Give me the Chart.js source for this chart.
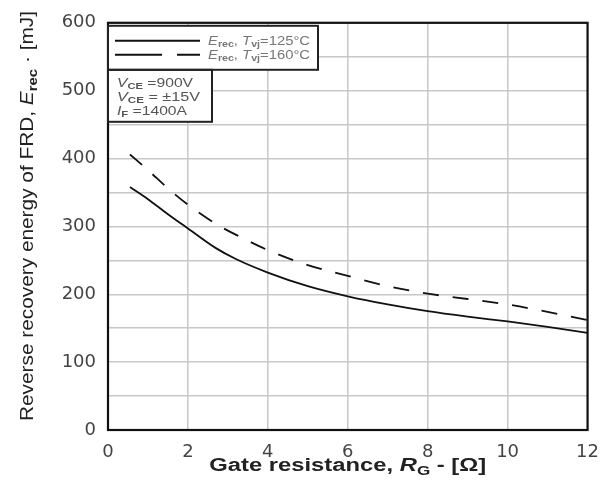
<!DOCTYPE html>
<html><head><meta charset="utf-8">
<script src="https://cdn.jsdelivr.net/npm/chart.js@4"></script>
<style>html,body{margin:0;padding:0;background:#fff}#wrap{width:611px;height:485px}</style>
</head><body><div id="wrap"><canvas id="c" width="611" height="485"></canvas></div>
<script>
// Data
const rgSolid = [0.55, 1, 1.5, 2, 2.7, 3.2, 4, 5, 6, 7, 8, 9, 10, 11, 12];
const eSolid  = [358, 340, 318, 297, 268, 252, 232, 212, 197, 185, 175, 167, 160, 152, 143];
const rgDash  = [0.55, 1, 1.5, 2, 2.75, 3.5, 4, 5, 6, 7, 8, 9, 10, 11, 12];
const eDash   = [406, 383, 356, 332, 302, 279, 265, 243, 227, 212, 201, 193, 185, 174, 162];
const xTicks = [0, 2, 4, 6, 8, 10, 12];
const yTicks = [0, 100, 200, 300, 400, 500, 600];

const pts = (xs, ys) => xs.map((x, i) => ({x, y: ys[i]}));
const FONT = '"Liberation Sans", Arial, sans-serif';
const TICKFONT = '"DejaVu Sans", sans-serif';

// draw mixed-style text; optional target width stretches it horizontally
function richText(ctx, x, y, segs, size, color, align, targetW) {
  const fontFor = (s) => {
    let sz = s.includes('sub') ? size * 0.72 : size;
    let w = s.includes('b') ? 'bold ' : '';
    let it = s.includes('i') ? 'italic ' : '';
    return it + w + sz + 'px ' + FONT;
  };
  let total = 0;
  segs.forEach(([t, s]) => { ctx.font = fontFor(s); total += ctx.measureText(t).width; });
  const sx = targetW ? targetW / total : 1;
  ctx.save();
  ctx.translate(x, y);
  ctx.scale(sx, 1);
  let cx = align === 'center' ? -total / 2 : 0;
  ctx.fillStyle = color;
  ctx.textBaseline = 'alphabetic';
  ctx.textAlign = 'left';
  segs.forEach(([t, s]) => {
    ctx.font = fontFor(s);
    ctx.fillText(t, cx, s.includes('sub') ? size * 0.22 : 0);
    cx += ctx.measureText(t).width;
  });
  ctx.restore();
}

const overlay = {
  id: 'overlay',
  afterDraw(chart) {
    const ctx = chart.ctx;
    const ca = chart.chartArea;
    ctx.save();
    // plot border
    ctx.strokeStyle = '#111'; ctx.lineWidth = 2.2;
    ctx.strokeRect(ca.left, ca.top, ca.right - ca.left, ca.bottom - ca.top);
    // legend box
    const L = ca.left, T = ca.top + 3;
    ctx.fillStyle = '#fff';
    ctx.fillRect(L, T, 210, 44);
    ctx.fillRect(L, T + 44, 104, 52);
    ctx.lineWidth = 2;
    ctx.strokeStyle = '#222';
    ctx.strokeRect(L, T, 210, 44);
    ctx.strokeRect(L, T + 44, 104, 52);
    ctx.lineWidth = 2;
    ctx.strokeStyle = '#111';
    ctx.beginPath(); ctx.moveTo(L + 7, T + 15); ctx.lineTo(L + 92, T + 15); ctx.stroke();
    ctx.setLineDash([47, 15]);
    ctx.beginPath(); ctx.moveTo(L + 7, T + 29); ctx.lineTo(L + 92, T + 29); ctx.stroke();
    ctx.setLineDash([]);
    richText(ctx, L + 100, T + 19, [['E', 'i'], ['rec', 'sub'], [', ', ''], ['T', 'i'], ['vj', 'sub'], ['=125°C', '']], 12, '#777', 'left', 102);
    richText(ctx, L + 100, T + 33, [['E', 'i'], ['rec', 'sub'], [', ', ''], ['T', 'i'], ['vj', 'sub'], ['=160°C', '']], 12, '#777', 'left', 102);
    richText(ctx, L + 9, T + 61, [['V', 'i'], ['CE', 'sub'], [' =900V', '']], 12, '#555', 'left', 76);
    richText(ctx, L + 9, T + 75, [['V', 'i'], ['CE', 'sub'], [' = ±15V', '']], 12, '#555', 'left', 83);
    richText(ctx, L + 9, T + 89, [['I', 'i'], ['F', 'sub'], [' =1400A', '']], 12, '#555', 'left', 70);
    // x title
    richText(ctx, (ca.left + ca.right) / 2, 471, [['Gate resistance, ', 'b'], ['R', 'bi'], ['G', 'bsub'], [' - [Ω]', 'b']], 18, '#222', 'center', 277);
    // y title
    ctx.translate(33, 216);
    ctx.rotate(-Math.PI / 2);
    richText(ctx, 0, 0, [['Reverse recovery energy of FRD, ', ''], ['E', 'i'], ['rec', 'sub'], [' · [mJ]', '']], 18.5, '#222', 'center', 410);
    ctx.restore();
  }
};

new Chart(document.getElementById('c'), {
  type: 'scatter',
  data: {
    datasets: [
      { label: 'Erec, Tvj=125°C', data: pts(rgSolid, eSolid), showLine: true, borderColor: '#111', borderWidth: 1.8, pointRadius: 0, tension: 0.4, cubicInterpolationMode: 'monotone' },
      { label: 'Erec, Tvj=160°C', data: pts(rgDash, eDash), showLine: true, borderColor: '#111', borderWidth: 1.8, borderDash: [16, 14], pointRadius: 0, tension: 0.4, cubicInterpolationMode: 'monotone' }
    ]
  },
  options: {
    responsive: false, animation: false,
    layout: { padding: { top: 10, right: 23, left: 0, bottom: 0 } },
    plugins: { legend: { display: false }, tooltip: { enabled: false } },
    scales: {
      x: {
        type: 'linear', min: 0, max: 12,
        afterFit: s => { s.height = 55; },
        afterBuildTicks: s => { s.ticks = xTicks.map(v => ({value: v})); },
        grid: { color: '#c8c8c8', lineWidth: 1.5, drawTicks: false },
        border: { display: false },
        ticks: { padding: 12, color: '#444', font: { size: 18, family: TICKFONT } }
      },
      y: {
        type: 'linear', min: 0, max: 600,
        afterFit: s => { s.width = 108; },
        ticks: { stepSize: 50, padding: 12, color: '#444', font: { size: 18, family: TICKFONT },
          callback: v => (yTicks.includes(v) ? String(v) : '') },
        grid: { color: '#c8c8c8', lineWidth: 1.5, drawTicks: false },
        border: { display: false }
      }
    }
  },
  plugins: [overlay]
});
</script></body></html>
